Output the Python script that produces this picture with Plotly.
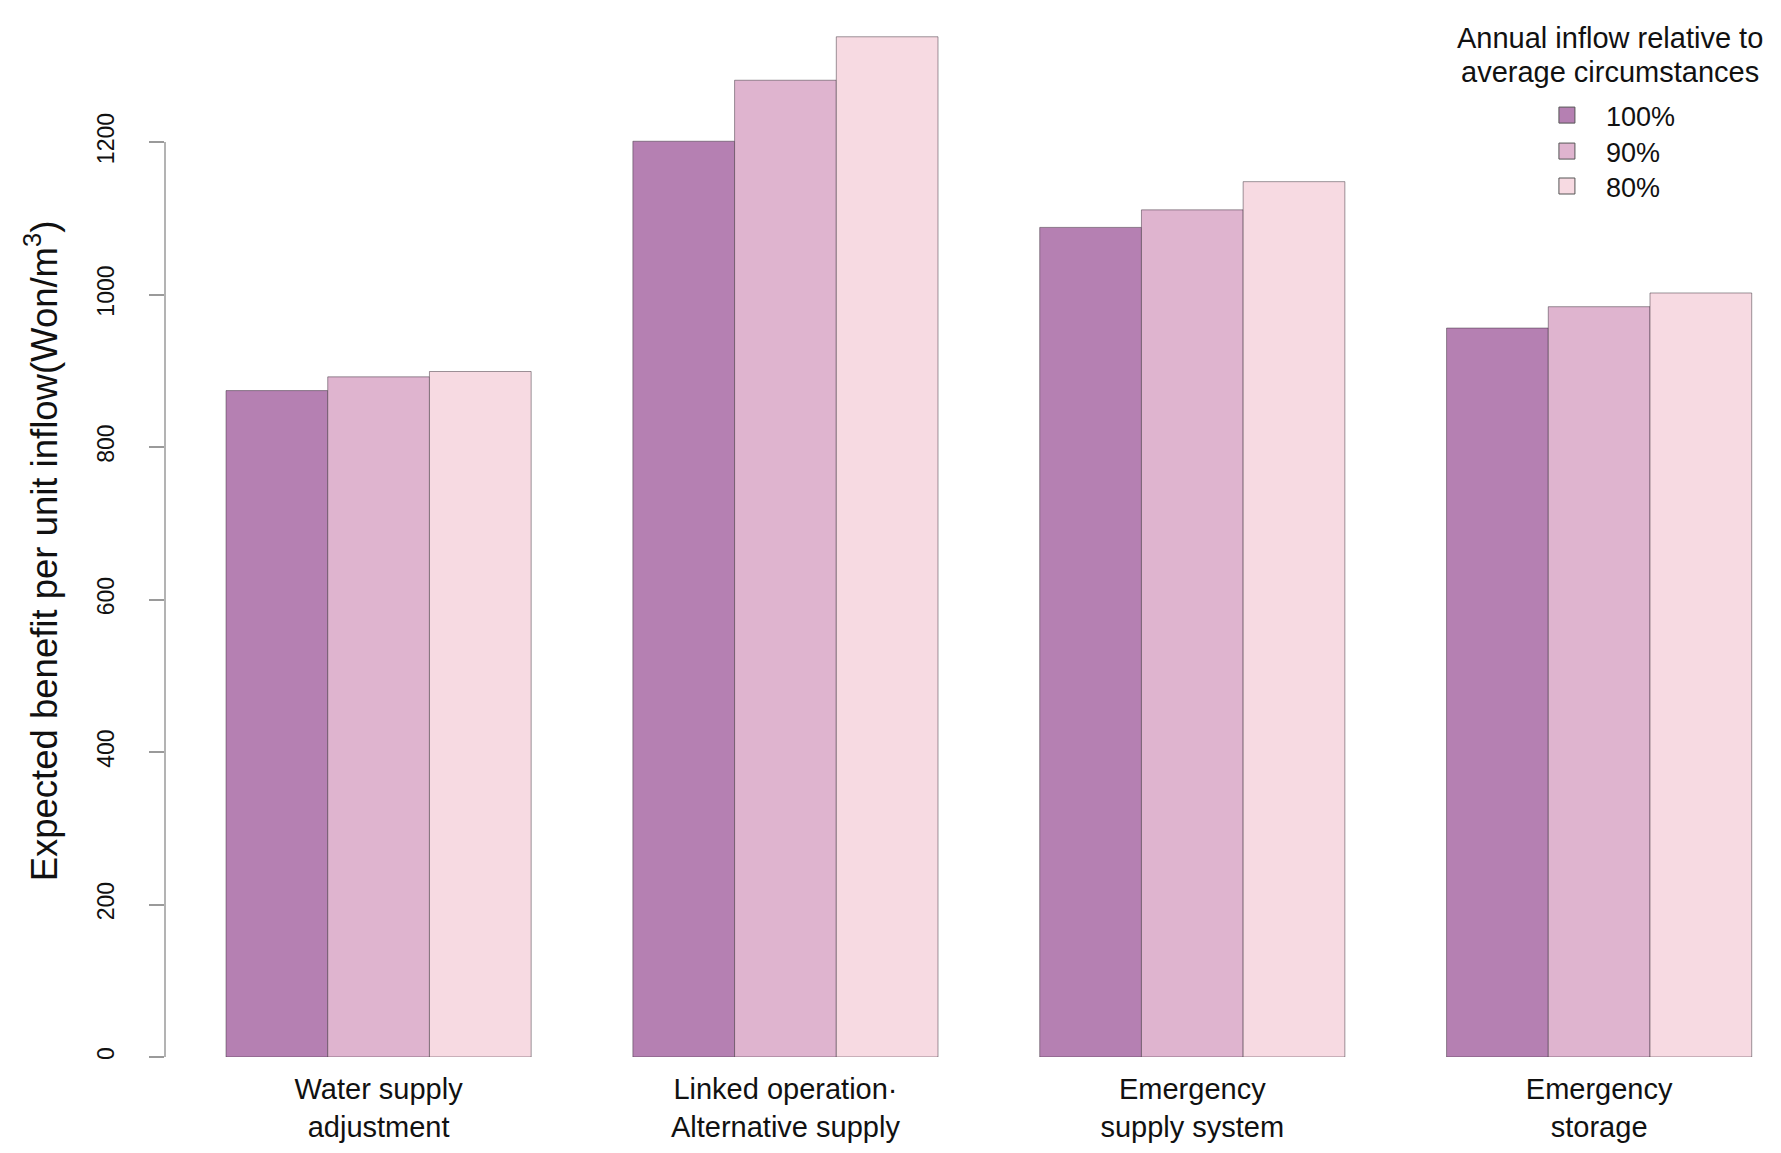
import plotly.graph_objects as go

categories = ["Water supply<br>adjustment", "Linked operation·<br>Alternative supply",
              "Emergency<br>supply system", "Emergency<br>storage"]
series_names = ["100%", "90%", "80%"]
values_100 = [874, 1201, 1088, 956]
values_90 = [892, 1281, 1111, 984]
values_80 = [899, 1338, 1148, 1002]
series_values = [values_100, values_90, values_80]
colors = ["#B580B2", "#DFB4CF", "#F7DAE2"]
y_ticks = [0, 200, 400, 600, 800, 1000, 1200]
legend_title_lines = ["Annual inflow relative to", "average circumstances"]
y_title = "Expected benefit per unit inflow(Won/m<sup>3</sup>)"

FONT = "Liberation Sans, Arial, sans-serif"
legend_ids = ["legend", "legend2", "legend3"]
legend_tops = [0.9315, 0.8968, 0.8631]

fig = go.Figure()
for name, vals, col, lid in zip(series_names, series_values, colors, legend_ids):
    fig.add_trace(go.Bar(
        x=categories, y=vals, name=name, showlegend=False,
        marker=dict(color=col, line=dict(color="rgba(50,40,50,0.6)", width=0.8)),
    ))
    # legend swatch
    fig.add_trace(go.Scatter(
        x=[None], y=[None], mode="markers", name=name, legend=lid,
        marker=dict(symbol="square", size=16, color=col,
                    line=dict(color="#555555", width=1)),
    ))

# axis line spanning first to last tick only (R style)
fig.add_shape(type="line", xref="paper", yref="y", x0=0, x1=0,
              y0=y_ticks[0], y1=y_ticks[-1], line=dict(color="#9a9a9a", width=1.5))

fig.add_annotation(
    text=y_title, xref="paper", yref="paper", x=-0.0765, y=0.488, textangle=-90,
    showarrow=False, xanchor="center", yanchor="middle",
    font=dict(family=FONT, size=36.5, color="#111111"),
)
for line, ly in zip(legend_title_lines, [0.9822, 0.9494]):
    fig.add_annotation(
        text=line, xref="paper", yref="paper", x=0.894, y=ly,
        showarrow=False, xanchor="center", yanchor="middle",
        font=dict(family=FONT, size=29, color="#111111"),
    )

legend_common = dict(
    font=dict(size=27, family=FONT), x=0.8434, xanchor="left", yanchor="top",
    bgcolor="rgba(0,0,0,0)", itemsizing="trace", itemwidth=68,
)

fig.update_layout(
    width=1773, height=1145,
    margin=dict(l=157, r=0, t=12, b=96),
    paper_bgcolor="white", plot_bgcolor="white",
    barmode="group", bargap=0.25, bargroupgap=0,
    font=dict(family=FONT, color="#111111"),
    legend=dict(y=legend_tops[0], **legend_common),
    legend2=dict(y=legend_tops[1], **legend_common),
    legend3=dict(y=legend_tops[2], **legend_common),
    xaxis=dict(
        range=[-0.525, 3.447], showline=False, showgrid=False, zeroline=False,
        ticks="", tickfont=dict(size=29, family=FONT, color="#111111"),
        ticklabelstandoff=12,
    ),
    yaxis=dict(
        range=[0, 1360], tickvals=y_ticks, ticktext=[str(v) for v in y_ticks],
        showline=False, showgrid=False, zeroline=False,
        ticks="outside", ticklen=15, tickcolor="#9a9a9a", tickwidth=1.5,
        tickangle=-90, tickfont=dict(size=23, family=FONT, color="#111111"),
        ticklabelstandoff=26,
    ),
)

fig.write_html("out.html")
